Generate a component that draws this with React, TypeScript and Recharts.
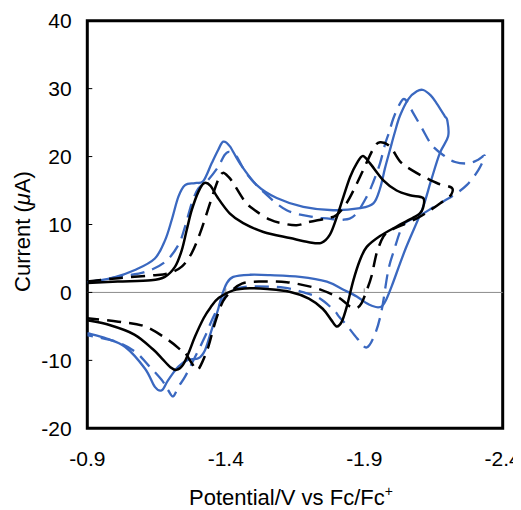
import React from "react";
import { LineChart, Line, XAxis, YAxis, ReferenceLine, ReferenceArea } from "recharts";

// Potential (V vs Fc/Fc+), current (µA) pairs, in scan order
const blackSolid: [number, number][] = [
  [-0.9, 1.4], [-1.01, 1.6], [-1.13, 1.8], [-1.18, 2.3], [-1.217, 3.8], [-1.241, 6.2], [-1.259, 9.2],
  [-1.277, 12.1], [-1.301, 14.8], [-1.322, 16.1], [-1.345, 15.7], [-1.37, 14.0], [-1.415, 11.6],
  [-1.463, 10.2], [-1.536, 8.9], [-1.632, 8.0], [-1.7, 7.4], [-1.745, 7.3], [-1.776, 8.5], [-1.801, 11.1],
  [-1.825, 14.1], [-1.849, 17.0], [-1.873, 19.0], [-1.895, 20.1], [-1.921, 19.0], [-1.969, 16.5],
  [-2.017, 15.0], [-2.065, 14.3], [-2.113, 13.9],
  [-2.112, 12.4], [-2.1, 11.6], [-2.077, 11.0], [-2.017, 9.7], [-1.957, 8.3], [-1.909, 6.7], [-1.885, 4.8],
  [-1.861, 1.8], [-1.837, -2.1], [-1.819, -4.3], [-1.8, -5.0], [-1.78, -4.0], [-1.75, -2.4], [-1.7, -0.9],
  [-1.63, 0.1], [-1.55, 0.5], [-1.487, 0.6], [-1.427, 0.3], [-1.375, -0.8], [-1.345, -2.2], [-1.32, -3.8],
  [-1.289, -6.5], [-1.265, -9.0], [-1.245, -10.7], [-1.222, -11.4], [-1.2, -11.0], [-1.169, -9.7],
  [-1.138, -8.4], [-1.07, -6.2], [-0.98, -4.8], [-0.9, -4.1],
];

const blackDashed: [number, number][] = [
  [-0.9, 1.6], [-1.012, 2.1], [-1.132, 2.5], [-1.192, 2.8], [-1.241, 3.8], [-1.277, 5.8], [-1.307, 8.7],
  [-1.331, 11.6], [-1.355, 14.6], [-1.375, 16.8], [-1.39, 17.6], [-1.41, 17.0], [-1.427, 16.1],
  [-1.469, 13.4], [-1.505, 12.1], [-1.56, 10.7], [-1.6, 10.2], [-1.656, 9.9], [-1.704, 10.4],
  [-1.764, 10.9], [-1.8, 11.4], [-1.837, 13.2], [-1.873, 16.0], [-1.905, 18.8], [-1.935, 21.3],
  [-1.957, 22.1], [-1.993, 21.5], [-2.029, 19.3], [-2.072, 18.0], [-2.126, 16.8], [-2.168, 16.0],
  [-2.216, 15.4],
  [-2.214, 14.4], [-2.19, 13.6], [-2.138, 12.1], [-2.09, 10.9], [-2.03, 9.8], [-1.993, 9.1], [-1.969, 8.2],
  [-1.945, 5.8], [-1.927, 2.5], [-1.909, 0.3], [-1.89, -1.6], [-1.872, -2.3], [-1.849, -2.1], [-1.82, -1.1],
  [-1.79, -0.4], [-1.72, 0.7], [-1.62, 1.5], [-1.52, 1.6], [-1.458, 1.3], [-1.421, 0.2], [-1.39, -1.3],
  [-1.361, -4.5], [-1.337, -8.0], [-1.31, -10.7], [-1.295, -11.4], [-1.277, -10.4], [-1.255, -9.0],
  [-1.241, -8.6], [-1.192, -7.0], [-1.108, -5.0], [-1.012, -4.3], [-0.9, -3.8],
];

const blueSolid: [number, number][] = [
  [-0.9, 1.5], [-0.988, 2.1], [-1.072, 3.3], [-1.144, 5.0], [-1.181, 7.7], [-1.205, 10.7], [-1.229, 14.1],
  [-1.253, 15.8], [-1.289, 16.1], [-1.319, 16.4], [-1.349, 19.0], [-1.373, 21.0], [-1.391, 22.2],
  [-1.415, 21.5], [-1.451, 19.0], [-1.512, 15.8], [-1.584, 13.9], [-1.68, 12.6], [-1.788, 12.1],
  [-1.885, 12.4], [-1.933, 13.1], [-1.957, 15.3], [-1.975, 18.3], [-1.993, 21.0], [-2.01, 23.5],
  [-2.029, 26.0], [-2.06, 28.5], [-2.09, 29.6], [-2.113, 29.8], [-2.14, 29.0], [-2.162, 27.8],
  [-2.19, 26.0], [-2.2, 25.3],
  [-2.203, 23.0], [-2.173, 20.5], [-2.14, 16.3], [-2.11, 12.3], [-2.05, 6.5], [-2.0, 1.0], [-1.98, -1.0],
  [-1.965, -2.0], [-1.95, -2.2], [-1.93, -2.0], [-1.909, -1.6], [-1.873, -0.6], [-1.825, 0.4],
  [-1.765, 1.6], [-1.668, 2.3], [-1.56, 2.55], [-1.487, 2.6], [-1.427, 2.3], [-1.403, 1.3], [-1.385, -0.6],
  [-1.373, -2.4], [-1.349, -5.5], [-1.325, -8.5], [-1.301, -9.7], [-1.265, -9.9], [-1.229, -10.9],
  [-1.192, -12.9], [-1.169, -14.4], [-1.144, -13.9], [-1.108, -11.2], [-1.036, -8.0], [-0.97, -6.8],
  [-0.9, -6.0],
];

const blueDashed: [number, number][] = [
  [-0.9, 1.5], [-1.012, 2.3], [-1.108, 3.0], [-1.181, 4.5], [-1.229, 7.0], [-1.253, 9.7], [-1.277, 13.1],
  [-1.301, 15.3], [-1.337, 16.6], [-1.373, 18.5], [-1.395, 20.2], [-1.412, 20.7], [-1.439, 20.0],
  [-1.475, 17.5], [-1.536, 14.8], [-1.62, 12.1], [-1.716, 11.1], [-1.765, 10.9], [-1.825, 10.7],
  [-1.867, 11.4], [-1.909, 14.1], [-1.933, 16.3], [-1.957, 19.0], [-1.975, 21.8], [-1.99, 23.6],
  [-2.005, 25.6], [-2.029, 27.8], [-2.048, 28.4], [-2.077, 26.4], [-2.108, 24.2], [-2.144, 21.7],
  [-2.186, 20.2], [-2.228, 19.2], [-2.276, 19.0], [-2.31, 19.5], [-2.335, 20.1],
  [-2.312, 18.0], [-2.27, 15.8], [-2.222, 14.3], [-2.16, 12.8], [-2.1, 11.3], [-2.05, 10.3], [-2.03, 9.0],
  [-2.01, 6.5], [-1.987, 3.3], [-1.963, -2.6], [-1.94, -6.0], [-1.909, -8.1], [-1.875, -6.8], [-1.84, -5.0],
  [-1.81, -3.6], [-1.79, -2.6], [-1.74, -0.9], [-1.69, -0.1], [-1.61, 0.7], [-1.5, 0.9], [-1.44, 0.6],
  [-1.415, 0.0], [-1.39, -1.0], [-1.355, -3.6], [-1.325, -6.5], [-1.289, -9.5], [-1.253, -12.4],
  [-1.229, -13.9], [-1.21, -15.3], [-1.192, -14.4], [-1.169, -12.9], [-1.12, -10.7], [-1.072, -8.7],
  [-1.0, -7.2], [-0.9, -6.3],
];

const xTicks = [-2.4, -1.9, -1.4, -0.9];
const yTicks = [-20, -10, 0, 10, 20, 30, 40];
const zeroTicks = [-1.4, -1.9];

const toRows = (pts: [number, number][]) => pts.map(([x, y]) => ({ x, y }));

// Catmull-Rom curve factory (passes through points, handles loops)
const catmullRom = (context: any) => {
  let pts: [number, number][] = [];
  return {
    areaStart() {},
    areaEnd() {},
    lineStart() {
      pts = [];
    },
    lineEnd() {
      const n = pts.length;
      if (!n) return;
      context.moveTo(pts[0][0], pts[0][1]);
      for (let i = 0; i < n - 1; i++) {
        const p0 = pts[i - 1] || pts[i];
        const p1 = pts[i];
        const p2 = pts[i + 1];
        const p3 = pts[i + 2] || p2;
        const t = 1 / 6;
        context.bezierCurveTo(
          p1[0] + (p2[0] - p0[0]) * t,
          p1[1] + (p2[1] - p0[1]) * t,
          p2[0] - (p3[0] - p1[0]) * t,
          p2[1] - (p3[1] - p1[1]) * t,
          p2[0],
          p2[1]
        );
      }
    },
    point(x: number, y: number) {
      pts.push([x, y]);
    },
  };
};

const BLUE = "#3a68c0";
const FONT = '"Liberation Sans", Arial, sans-serif';

export default function App() {
  return (
    <div style={{ position: "relative", width: 521, height: 510, margin: "-8px 0 0 -8px", fontFamily: FONT }}>
      <LineChart width={521} height={510} margin={{ top: 20.7, right: 18.3, bottom: 0, left: 0 }}>
        <XAxis
          type="number"
          dataKey="x"
          domain={[-2.4, -0.9]}
          reversed
          ticks={xTicks}
          axisLine={false}
          tickLine={false}
          tickSize={0}
          tickMargin={23}
          height={81.7}
          interval={0}
          tick={{ fill: "#000", fontSize: 21, fontFamily: FONT }}
          allowDataOverflow
        />
        <YAxis
          type="number"
          domain={[-20, 40]}
          ticks={yTicks}
          axisLine={false}
          tickLine={false}
          tickSize={0}
          tickMargin={15.6}
          width={87.3}
          interval={0}
          tick={{ fill: "#000", fontSize: 21, fontFamily: FONT }}
          allowDataOverflow
        />
        <ReferenceLine y={0} stroke="#8c8c8c" strokeWidth={1} />
        {zeroTicks.map((t) => (
          <ReferenceLine key={"zt" + t} segment={[{ x: t, y: 0 }, { x: t, y: 0.6 }]} stroke="#8c8c8c" strokeWidth={1} />
        ))}
        {yTicks.map((t) => (
          <ReferenceLine key={"yt" + t} segment={[{ x: -0.9, y: t }, { x: -0.918, y: t }]} stroke="#000" strokeWidth={1} />
        ))}
        <Line data={toRows(blueSolid)} dataKey="y" type={catmullRom as any} stroke={BLUE} strokeWidth={2.3} dot={false} activeDot={false} isAnimationActive={false} />
        <Line data={toRows(blueDashed)} dataKey="y" type={catmullRom as any} stroke={BLUE} strokeWidth={2.3} strokeDasharray="14 8" dot={false} activeDot={false} isAnimationActive={false} />
        <Line data={toRows(blackDashed)} dataKey="y" type={catmullRom as any} stroke="#000" strokeWidth={2.5} strokeDasharray="14 8" dot={false} activeDot={false} isAnimationActive={false} />
        <Line data={toRows(blackSolid)} dataKey="y" type={catmullRom as any} stroke="#000" strokeWidth={2.5} dot={false} activeDot={false} isAnimationActive={false} />
        <ReferenceArea x1={-2.4} x2={-0.9} y1={-20} y2={40} fill="none" stroke="#000" strokeWidth={3} />
      </LineChart>
      <svg width={521} height={510} style={{ position: "absolute", left: 0, top: 0, pointerEvents: "none" }}>
        <text x={291} y={505} textAnchor="middle" fontSize={22} fontFamily={FONT} fill="#000">
          Potential/V vs Fc/Fc<tspan fontSize={14} dy={-9}>+</tspan>
        </text>
        <text transform="translate(29.5,231.5) rotate(-90)" textAnchor="middle" fontSize={22} fontFamily={FONT} fill="#000">
          Current (<tspan fontStyle="italic">μ</tspan>A)
        </text>
      </svg>
    </div>
  );
}
